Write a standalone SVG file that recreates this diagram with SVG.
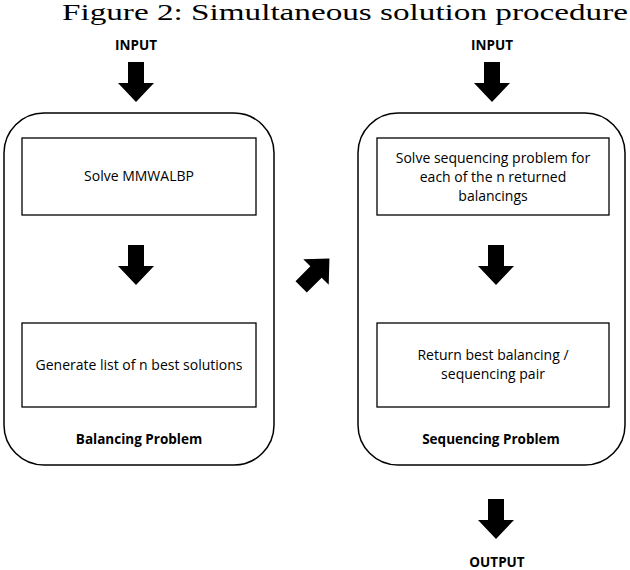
<svg xmlns="http://www.w3.org/2000/svg" width="630" height="570" viewBox="0 0 630 570">
<style>
.t{font-family:"Open Sans","Liberation Sans",sans-serif;font-size:14px;text-anchor:middle;fill:#000}
.b{font-weight:bold;font-size:13.5px}
.o{fill:none;stroke:#000;stroke-width:1.5}
.i{fill:#fff;stroke:#000;stroke-width:1.3}
</style>
<defs>
<path id="arr" d="M-8,-21 H8 V0 H18 L0,19 L-18,0 H-8 Z" fill="#000"/>
</defs>
<rect width="630" height="570" fill="#fff"/>
<text x="62" y="20" font-family="Liberation Serif,serif" font-size="24" textLength="566" lengthAdjust="spacingAndGlyphs">Figure 2: Simultaneous solution procedure</text>
<g id="left">
<rect class="o" x="4" y="113" width="270" height="352" rx="40"/>
<text class="t b" x="139" y="444">Balancing Problem</text>
</g>
<g id="solve"><rect class="i" x="22" y="138" width="234" height="77"/><text class="t" x="139" y="181">Solve MMWALBP</text></g>
<g id="gen"><rect class="i" x="22" y="323" width="234" height="84"/><text class="t" x="139" y="370">Generate list of n best solutions</text></g>
<g id="right">
<rect class="o" x="358" y="113" width="267" height="352" rx="40"/>
<text class="t b" x="491" y="444">Sequencing Problem</text>
</g>
<g id="seq"><rect class="i" x="377" y="138" width="232" height="77"/><text class="t" x="493" y="163">Solve sequencing problem for</text><text class="t" x="493" y="182">each of the n returned</text><text class="t" x="493" y="201">balancings</text></g>
<g id="ret"><rect class="i" x="377" y="323" width="232" height="84"/><text class="t" x="493" y="360">Return best balancing /</text><text class="t" x="493" y="379">sequencing pair</text></g>
<g id="in1"><text class="t b" x="136" y="50">INPUT</text></g>
<g id="in2"><text class="t b" x="492" y="50">INPUT</text></g>
<g id="out"><text class="t b" x="497" y="567">OUTPUT</text></g>
<g id="connectors">
<use href="#arr" transform="translate(136,83)"/>
<use href="#arr" transform="translate(492,83)"/>
<use href="#arr" transform="translate(136,266)"/>
<use href="#arr" transform="translate(496,266)"/>
<use href="#arr" transform="translate(496,520)"/>
<use href="#arr" transform="translate(316,272) rotate(-135)"/>
</g>
</svg>
